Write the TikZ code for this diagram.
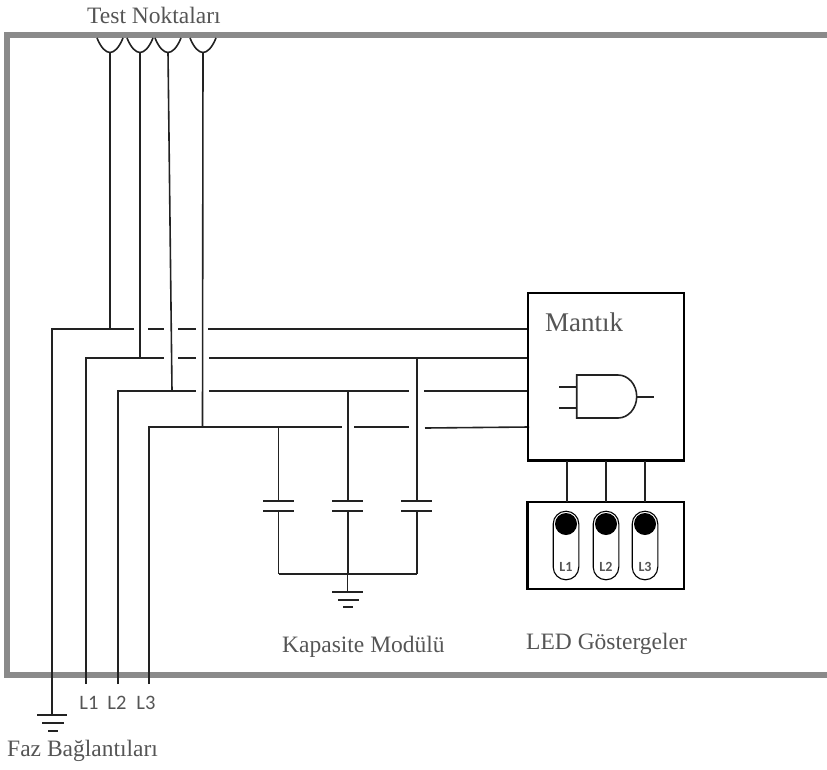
\documentclass[tikz,border=0pt]{standalone}
\usepackage{fontspec}
\setmainfont{Liberation Serif}
\newfontfamily\lblfont{Carlito}
\definecolor{txt}{HTML}{555555}
\definecolor{frm}{HTML}{8A8A8A}
\definecolor{wirec}{HTML}{222222}
\tikzset{
  x=1pt,y=-1pt,
  wire/.style={draw=wirec,line width=1.6pt},
  heavy/.style={draw=black,line width=2.2pt},
  capt/.style={font=\fontsize{23.5}{26}\selectfont,text=txt,inner sep=0pt,anchor=base west},
  phase/.style={font=\lblfont\fontsize{20.5}{24}\selectfont,text=txt,inner sep=0pt,anchor=base},
  tiny/.style={font=\lblfont\bfseries\fontsize{14}{16}\selectfont,text=txt,inner sep=0pt,anchor=base},
  pillshape/.style={draw=black,line width=1.1pt,fill=white}
}
\begin{document}
\begin{tikzpicture}
\useasboundingbox (0,0) rectangle (827,769);
% frame
\draw[frm,line width=6pt] (827,35) -- (7,35) -- (7,675) -- (827,675);
% test point cups
\foreach \x in {110,140,168,203}{
  \draw[wire] (\x-13,38) .. controls (\x-9,48) and (\x-4,52.5) .. (\x,52.5) .. controls (\x+4,52.5) and (\x+9,48) .. (\x+13,38);
}
\coordinate (g) at (52,329);
\coordinate (a) at (86,358);
\coordinate (b) at (118,391);
\coordinate (c) at (149,427);
% verticals
\draw[wire] (110,52) -- (110,329);
\draw[wire] (140,52) -- (140,358);
\draw[wire] (168,52) -- (172,391);
\draw[wire] (203,52) -- (202.5,427);
% feeder lines
\draw[wire] (52,715) -- (g) -- (134,329);
\draw[wire] (148,329) -- (164,329);
\draw[wire] (178,329) -- (196,329);
\draw[wire] (208,329) -- (528,329);
\draw[wire] (86,684) -- (a) -- (164,358);
\draw[wire] (178,358) -- (196,358);
\draw[wire] (209,358) -- (528,358);
\draw[wire] (118,684) -- (b) -- (196,391);
\draw[wire] (209,391) -- (409,391);
\draw[wire] (424,391) -- (528,391);
\draw[wire] (149,684) -- (c) -- (342,427);
\draw[wire] (354,427) -- (409,427);
\draw[wire] (425,428) -- (529,427);
% ground 1
\draw[wire] (37,715) -- (67,715);
\draw[wire] (42,723) -- (64,723);
\draw[wire] (48,731) -- (58,731);
% capacitors
\foreach \x/\t in {278.5/427,347.7/391,416.7/358}{
  \draw[wire] (\x,\t) -- (\x,500.7);
  \draw[wire] (\x,510.7) -- (\x,573.7);
  \draw[wire] (\x-15.5,500.7) -- (\x+15.5,500.7);
  \draw[wire] (\x-15.5,510.7) -- (\x+15.5,510.7);
}
\draw[wire] (278.5,573.7) -- (416.7,573.7);
\draw[wire] (347.5,573.7) -- (347.5,592);
\draw[wire] (332,592) -- (363,592);
\draw[wire] (338,600) -- (359,600);
\draw[wire] (343,607) -- (353,607);
% logic box
\draw[heavy] (528.3,292.7) rectangle (684,460.5);
\node[capt,font=\fontsize{27}{30}\selectfont] at (545,331) {Mantık};
\draw[wire] (576.7,375) -- (618,375) arc[start angle=-90,end angle=90,x radius=18.7,y radius=21.5] -- (576.7,418) -- cycle;
\draw[wire] (559,386.7) -- (576.7,386.7);
\draw[wire] (559,408) -- (576.7,408);
\draw[wire] (636.7,397) -- (654,397);
% LED box
\draw[heavy] (527.5,501.7) rectangle (684,589);
\foreach \x in {567,606,644.7}{\draw[wire] (\x,460.5) -- (\x,501.7);}
\foreach \x/\l in {566/L1,606/L2,645/L3}{
  \draw[pillshape] (\x-12.8,524) arc[start angle=180,end angle=360,radius=12.8] -- (\x+12.8,567) arc[start angle=0,end angle=180,radius=12.8] -- cycle;
  \fill[black] (\x,524) circle[radius=11];
  \node[tiny] at (\x,571.7) {\l};
}
% captions
\node[capt] at (87,23) {Test Noktaları};
\node[capt] at (282,652) {Kapasite Modülü};
\node[capt] at (526,649) {LED Göstergeler};
\node[capt] at (7,756) {Faz Bağlantıları};
\node[phase] at (89,709) {L1};
\node[phase] at (117,709) {L2};
\node[phase] at (146,709) {L3};
\end{tikzpicture}
\end{document}
